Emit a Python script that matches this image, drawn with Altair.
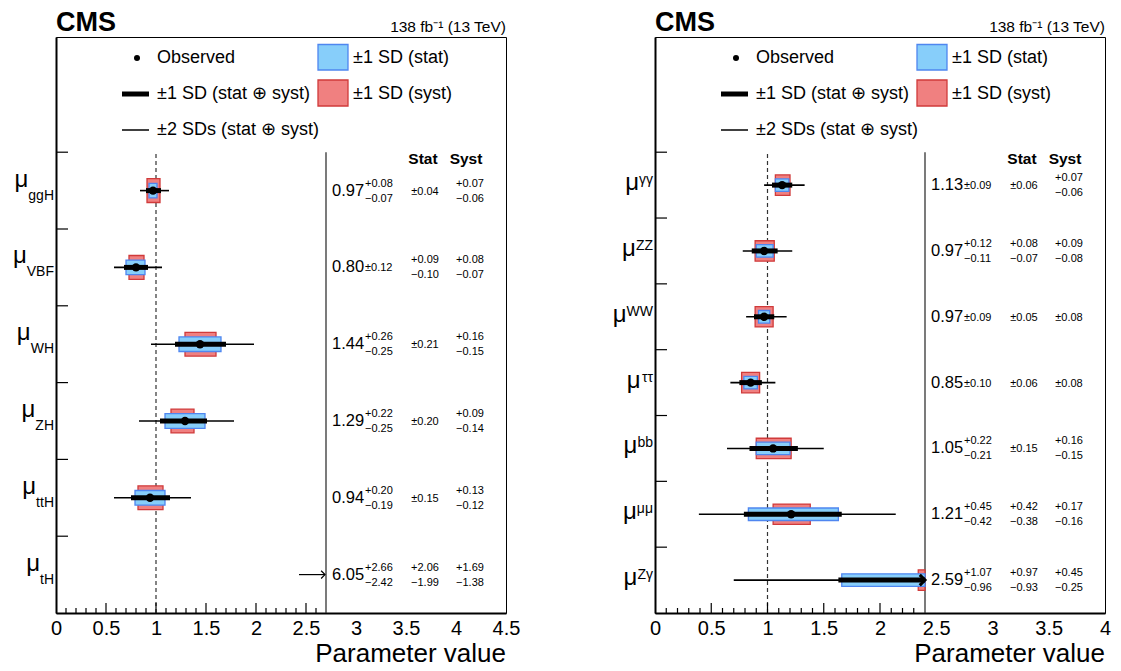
import altair as alt
import pandas as pd

FONT = "Liberation Sans"

# ---------------- data: production modes (left panel) ----------------
prod_labels = ["ggH", "VBF", "WH", "ZH", "ttH", "tH"]
prod_value = [0.97, 0.80, 1.44, 1.29, 0.94, 6.05]
prod_tot_up = [0.08, 0.12, 0.26, 0.22, 0.20, 2.66]
prod_tot_dn = [0.07, 0.12, 0.25, 0.25, 0.19, 2.42]
prod_stat_up = [0.04, 0.09, 0.21, 0.20, 0.15, 2.06]
prod_stat_dn = [0.04, 0.10, 0.21, 0.20, 0.15, 1.99]
prod_syst_up = [0.07, 0.08, 0.16, 0.09, 0.13, 1.69]
prod_syst_dn = [0.06, 0.07, 0.15, 0.14, 0.12, 1.38]
prod_2sd_lo = [0.84, 0.58, 0.95, 0.83, 0.58, None]
prod_2sd_hi = [1.13, 1.06, 1.98, 1.78, 1.35, None]

# ---------------- data: decay modes (right panel) ----------------
decay_labels = ["γγ", "ZZ", "WW", "ττ", "bb", "μμ", "Zγ"]
decay_value = [1.13, 0.97, 0.97, 0.85, 1.05, 1.21, 2.59]
decay_tot_up = [0.09, 0.12, 0.09, 0.10, 0.22, 0.45, 1.07]
decay_tot_dn = [0.09, 0.11, 0.09, 0.10, 0.21, 0.42, 0.96]
decay_stat_up = [0.06, 0.08, 0.05, 0.06, 0.15, 0.42, 0.97]
decay_stat_dn = [0.06, 0.07, 0.05, 0.06, 0.15, 0.38, 0.93]
decay_syst_up = [0.07, 0.09, 0.08, 0.08, 0.16, 0.17, 0.45]
decay_syst_dn = [0.06, 0.08, 0.08, 0.08, 0.15, 0.16, 0.25]
decay_2sd_lo = [0.97, 0.78, 0.81, 0.67, 0.64, 0.39, 0.70]
decay_2sd_hi = [1.33, 1.22, 1.17, 1.07, 1.50, 2.14, 4.70]

RED_FILL, RED_LINE = "#F08080", "#D03A3A"
BLUE_FILL, BLUE_LINE = "#87CEFA", "#4F86F0"

CHAR_W = {"g": .556, "H": .722, "V": .667, "B": .667, "F": .611, "W": .944,
          "Z": .611, "t": .278, "b": .556, "γ": .5, "τ": .44, "μ": .576}


def txt_w(s, size):
    return sum(CHAR_W.get(c, 0.556) for c in s) * size


def pm(up, dn):
    if abs(up - dn) < 1e-9:
        return f"±{up:.2f}", "", ""
    return "", f"+{up:.2f}", f"−{dn:.2f}"


def build_table(labels, val, tu, td, su, sd, yu, yd, lo2, hi2):
    n = len(labels)
    rec = []
    for i in range(n):
        ts, tup, tdn = pm(tu[i], td[i])
        ss, sup_, sdn = pm(su[i], sd[i])
        ys_, yup, ydn = pm(yu[i], yd[i])
        rec.append(dict(
            label=labels[i], pos=n - 0.5 - i, val=val[i],
            tot_lo=round(val[i] - td[i], 4), tot_hi=round(val[i] + tu[i], 4),
            stat_lo=round(val[i] - sd[i], 4), stat_hi=round(val[i] + su[i], 4),
            syst_lo=round(val[i] - yd[i], 4), syst_hi=round(val[i] + yu[i], 4),
            lo2=lo2[i], hi2=hi2[i],
            main=f"{val[i]:.2f}", tot_sym=ts, tot_up=tup, tot_dn=tdn,
            stat_sym=ss, stat_up=sup_, stat_dn=sdn,
            syst_sym=ys_, syst_up=yup, syst_dn=ydn))
    return pd.DataFrame(rec)


def panel(df, xmax, cut, ymax, W, H, script):
    n = len(df)
    pxx = W / xmax
    xs = alt.Scale(domain=[0, xmax], nice=False, zero=False)
    ys = alt.Scale(domain=[0, ymax], nice=False, zero=False)
    xlabels = [k * 0.5 for k in range(int(round(xmax / 0.5)) + 1)]
    xax = alt.Axis(values=xlabels, format="~g", labelFont=FONT, labelFontSize=20,
                   labelColor="black", labelPadding=5, labelFlush=False,
                   labelOverlap=False, ticks=False, grid=False,
                   domainColor="black", domainWidth=2, title=None)
    yax = alt.Axis(labels=False, ticks=False, grid=False, domainColor="black",
                   domainWidth=2, title=None)

    def X(f):
        return alt.X(f, type="quantitative", scale=xs, axis=xax)

    def Y(f):
        return alt.Y(f, type="quantitative", scale=ys, axis=yax)

    df = df.copy()
    size_lab = 14
    df["mu_x"] = [-(2 + txt_w(s, size_lab)) / pxx for s in df["label"]]
    base = alt.Chart(df)
    one = alt.Chart(pd.DataFrame({"ref": [1.0], "cut": [cut], "y0": [0.0], "y1": [float(n)]}))
    L = []
    # reference line at 1 and column divider
    L.append(one.mark_rule(color="#333", strokeWidth=1.2, strokeDash=[4, 3]).encode(
        x=X("ref"), y=Y("y0"), y2=alt.Y2("y1")))
    L.append(one.mark_rule(color="#222", strokeWidth=1.2).encode(
        x=X("cut"), y=Y("y0"), y2=alt.Y2("y1")))

    def box(lo, hi, h, fill, line):
        return base.transform_filter(f"datum.{lo} < {cut}").transform_calculate(
            a=f"datum.{lo}", b=f"min(datum.{hi}, {cut})",
            c=f"datum.pos - {h}", d=f"datum.pos + {h}"
        ).mark_rect(fill=fill, stroke=line, strokeWidth=1.3).encode(
            x=X("a"), x2=alt.X2("b"), y=Y("c"), y2=alt.Y2("d"))

    L.append(box("syst_lo", "syst_hi", 0.155, RED_FILL, RED_LINE))
    L.append(box("stat_lo", "stat_hi", 0.095, BLUE_FILL, BLUE_LINE))
    # +-2 SD thin line
    L.append(base.transform_filter(f"isValid(datum.lo2) && datum.lo2 < {cut}").transform_calculate(
        b=f"min(datum.hi2, {cut})").mark_rule(color="black", strokeWidth=1.6).encode(
        x=X("lo2"), x2=alt.X2("b"), y=Y("pos")))
    # +-1 SD thick line
    L.append(base.transform_filter(f"datum.tot_lo < {cut}").transform_calculate(
        b=f"min(datum.tot_hi, {cut})").mark_rule(color="black", strokeWidth=5, strokeCap="butt").encode(
        x=X("tot_lo"), x2=alt.X2("b"), y=Y("pos")))
    # observed point
    L.append(base.transform_filter(f"datum.val < {cut}").mark_point(
        filled=True, color="black", opacity=1, size=70).encode(x=X("val"), y=Y("pos")))
    # arrows for values beyond the cut
    L.append(base.transform_filter(f"datum.val > {cut} && datum.tot_lo < {cut}").transform_calculate(
        c=f"{cut}").mark_point(shape="M-1,-1L0,0L-1,1", filled=False, color="black",
                               strokeWidth=3, size=110, opacity=1).encode(x=X("c"), y=Y("pos")))
    thin_arrow = base.transform_filter(f"datum.val > {cut} && datum.tot_lo >= {cut}").transform_calculate(
        c=f"{cut}")
    L.append(thin_arrow.mark_rule(color="black", strokeWidth=1.2, xOffset=-1, x2Offset=-27).encode(
        x=X("c"), x2=alt.X2("c"), y=Y("pos")))
    L.append(thin_arrow.mark_point(shape="M-1,-1L0,0L-1,1", filled=False, color="black",
                                   strokeWidth=1.2, size=60, opacity=1, xOffset=-1).encode(x=X("c"), y=Y("pos")))

    # value text
    def t(field, xpx, size, dy=0, align="left"):
        return base.mark_text(font=FONT, fontSize=size, align=align, baseline="middle", dy=dy,
                              color="black").encode(
            x=alt.value(xpx), y=Y("pos"), text=alt.Text(field))

    L.append(t("main", 276, 16.5))
    L.append(t("tot_sym", 309, 11, 1))
    L.append(t("tot_up", 309, 11, -7))
    L.append(t("tot_dn", 309, 11, 8))
    for col, xc in (("stat", 369), ("syst", 414)):
        L.append(t(col + "_sym", xc, 11, 1, align="center"))
        L.append(t(col + "_up", xc, 11, -7, align="center"))
        L.append(t(col + "_dn", xc, 11, 8, align="center"))
    hdr = alt.Chart(pd.DataFrame({"h": ["Stat", "Syst"], "px": [367, 410], "y": [float(n)] * 2}))
    L.append(hdr.mark_text(font=FONT, fontSize=15.5, fontWeight="bold", align="center",
                           baseline="middle", dy=7, color="black").encode(
        x=alt.X("px", type="quantitative", scale=None), y=Y("y"), text="h"))

    # y labels: mu with sub/superscript
    if script == "sub":
        L.append(base.mark_text(font=FONT, fontSize=size_lab, align="right", baseline="alphabetic",
                                dy=9, color="black").encode(x=alt.value(-2), y=Y("pos"), text="label"))
        L.append(base.mark_text(font=FONT, fontSize=24, align="right", baseline="alphabetic",
                                dy=-4, color="black", text="μ").encode(x=X("mu_x"), y=Y("pos")))
    else:
        L.append(base.mark_text(font=FONT, fontSize=size_lab, align="right", baseline="alphabetic",
                                dy=-1, color="black").encode(x=alt.value(-2), y=Y("pos"), text="label"))
        L.append(base.mark_text(font=FONT, fontSize=24, align="right", baseline="alphabetic",
                                dy=5, color="black", text="μ").encode(x=X("mu_x"), y=Y("pos")))

    # axis ticks drawn inward
    maj = [round(0.5 * k, 2) for k in range(1, 20) if 0.5 * k < cut - 1e-9]
    mnr = [round(0.1 * k, 2) for k in range(1, int(round(cut * 10))) if k % 5 != 0]
    L.append(alt.Chart(pd.DataFrame({"t": maj})).mark_rule(color="black", strokeWidth=1.2).encode(
        x=X("t"), y=alt.value(H), y2=alt.value(H - 10)))
    L.append(alt.Chart(pd.DataFrame({"t": mnr})).mark_rule(color="black", strokeWidth=1.2).encode(
        x=X("t"), y=alt.value(H), y2=alt.value(H - 5)))
    L.append(alt.Chart(pd.DataFrame({"t": [float(k) for k in range(1, n + 1)]})).mark_rule(
        color="black", strokeWidth=1.2).encode(x=alt.value(0), x2=alt.value(12), y=Y("t")))

    # legend (drawn in pixel space of the plot)
    lg = alt.Chart(pd.DataFrame({"_": [0]}))
    L.append(lg.mark_rect(fill=BLUE_FILL, stroke=BLUE_LINE, strokeWidth=1.3).encode(
        x=alt.value(262), x2=alt.value(292), y=alt.value(7.5), y2=alt.value(33)))
    L.append(lg.mark_rect(fill=RED_FILL, stroke=RED_LINE, strokeWidth=1.3).encode(
        x=alt.value(262), x2=alt.value(292), y=alt.value(43), y2=alt.value(69)))
    L.append(lg.mark_point(filled=True, color="black", opacity=1, size=36).encode(
        x=alt.value(81), y=alt.value(21)))
    L.append(lg.mark_rule(color="black", strokeWidth=5).encode(
        x=alt.value(66), x2=alt.value(93), y=alt.value(57)))
    L.append(lg.mark_rule(color="black", strokeWidth=1.5).encode(
        x=alt.value(66), x2=alt.value(93), y=alt.value(93)))
    for s, xp, yp in (("Observed", 101, 21), ("±1 SD (stat ⊕ syst)", 101, 57),
                      ("±2 SDs (stat ⊕ syst)", 101, 93), ("±1 SD (stat)", 297, 21),
                      ("±1 SD (syst)", 297, 57)):
        L.append(lg.mark_text(font=FONT, fontSize=18, align="left", baseline="middle",
                              color="black", text=s).encode(x=alt.value(xp), y=alt.value(yp)))
    # titles
    L.append(lg.mark_text(font=FONT, fontSize=27, fontWeight="bold", align="left",
                          baseline="alphabetic", color="black", text="CMS").encode(
        x=alt.value(0), y=alt.value(-6)))
    L.append(lg.mark_text(font=FONT, fontSize=15.5, align="right", baseline="alphabetic",
                          color="black", text="138 fb⁻¹ (13 TeV)").encode(
        x=alt.value(W), y=alt.value(-5)))
    L.append(lg.mark_text(font=FONT, fontSize=26, align="right", baseline="alphabetic",
                          color="black", text="Parameter value").encode(
        x=alt.value(W), y=alt.value(H + 49)))

    return alt.layer(*L).properties(width=W, height=H)


left_df = build_table(prod_labels, prod_value, prod_tot_up, prod_tot_dn, prod_stat_up,
                      prod_stat_dn, prod_syst_up, prod_syst_dn, prod_2sd_lo, prod_2sd_hi)
right_df = build_table(decay_labels, decay_value, decay_tot_up, decay_tot_dn, decay_stat_up,
                       decay_stat_dn, decay_syst_up, decay_syst_dn, decay_2sd_lo, decay_2sd_hi)

left = panel(left_df, 4.5, 2.7, 7.5, 450, 576, "sub")
right = panel(right_df, 4.0, 2.4, 8.75, 450, 576, "sup")

chart = alt.hconcat(left, right, spacing=91).configure_view(
    stroke="black", strokeWidth=1).properties(
    padding={"left": 4, "top": 0, "right": 0, "bottom": 0}, background="white")

chart.save("out.html", embed_options={"renderer": "svg", "actions": False})
